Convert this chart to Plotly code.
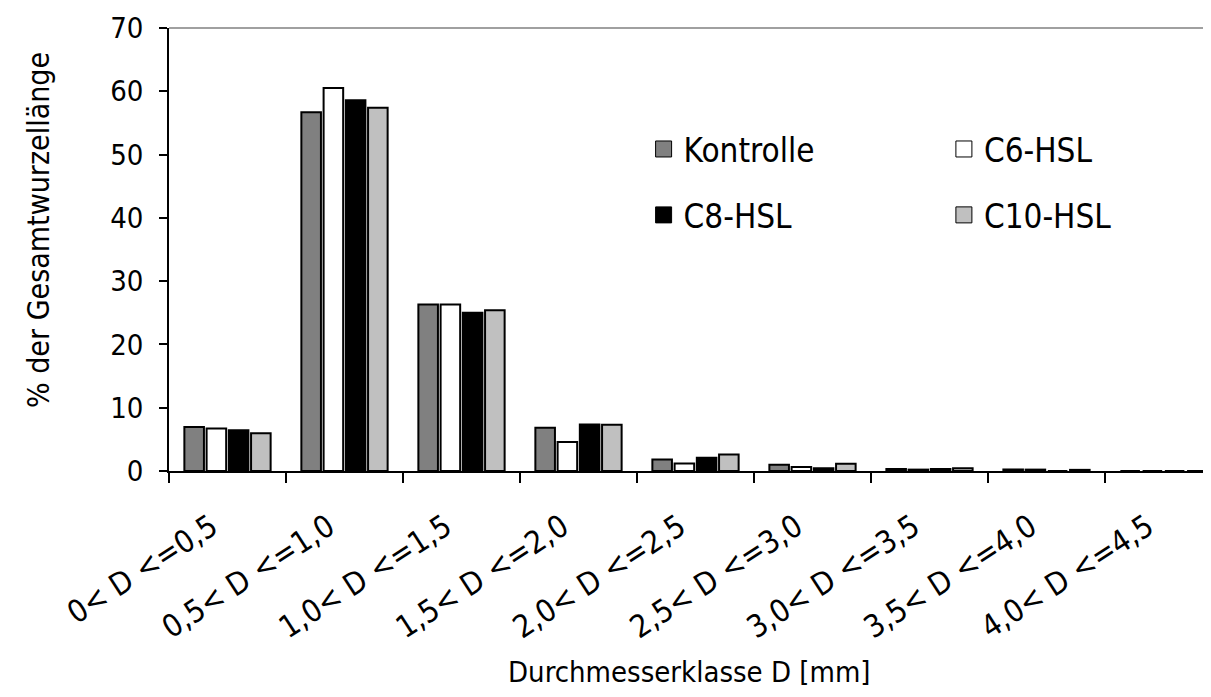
import plotly.graph_objects as go

categories = ["0< D <=0,5", "0,5< D <=1,0", "1,0< D <=1,5", "1,5< D <=2,0",
              "2,0< D <=2,5", "2,5< D <=3,0", "3,0< D <=3,5", "3,5< D <=4,0",
              "4,0< D <=4,5"]
kontrolle = [6.95, 56.7, 26.3, 6.85, 1.8, 1.0, 0.33, 0.24, 0]
c6_hsl = [6.7, 60.5, 26.3, 4.6, 1.2, 0.65, 0.22, 0.22, 0]
c8_hsl = [6.45, 58.6, 25.0, 7.35, 2.1, 0.45, 0.33, 0, 0]
c10_hsl = [5.95, 57.4, 25.4, 7.3, 2.6, 1.15, 0.45, 0.18, 0]

series = [
    ("Kontrolle", kontrolle, "#808080", "legend"),
    ("C6-HSL", c6_hsl, "#ffffff", "legend2"),
    ("C8-HSL", c8_hsl, "#000000", "legend"),
    ("C10-HSL", c10_hsl, "#c0c0c0", "legend2"),
]

FONT = "DejaVu Sans Condensed, DejaVu Sans, sans-serif"
FS = 29

fig = go.Figure()
for name, vals, col, leg in series:
    fig.add_trace(go.Bar(
        x=categories, y=vals, name=name, showlegend=False,
        marker=dict(color=col, line=dict(color="#000000", width=2)),
    ))
# legend proxies (bigger swatches)
for name, vals, col, leg in series:
    fig.add_trace(go.Scatter(
        x=[None], y=[None], mode="markers", name=name, legend=leg,
        legendgroup=name, showlegend=True,
        marker=dict(symbol="square", size=16, color=col,
                    line=dict(color="#000000", width=1)),
    ))

L, T, PH = 161, 20, 443
PW = 1211 - L
n_vis = PW / 117.0
LEGFONT = dict(family=FONT, size=33)
fig.update_layout(
    width=1211, height=697,
    margin=dict(l=L, r=0, t=T, b=697 - T - PH, autoexpand=False),
    paper_bgcolor="white", plot_bgcolor="white",
    font=dict(family=FONT, size=FS, color="black"),
    barmode="group", bargap=0.24, bargroupgap=0.12,
    showlegend=True,
    legend=dict(x=0.452, y=0.79, xanchor="left", yanchor="top",
                bgcolor="rgba(0,0,0,0)", borderwidth=0, tracegroupgap=20,
                font=LEGFONT),
    legend2=dict(x=0.738, y=0.79, xanchor="left", yanchor="top",
                 bgcolor="rgba(0,0,0,0)", borderwidth=0, tracegroupgap=20,
                 font=LEGFONT),
    xaxis=dict(type="category", range=[-0.5, -0.5 + n_vis],
               tickson="boundaries", ticks="outside", ticklen=10,
               tickwidth=1.5, tickcolor="black", showline=True,
               linecolor="black", linewidth=1.5, tickangle=-33,
               showgrid=False, zeroline=False, automargin=False,
               ticklabelshift=-16, ticklabelstandoff=24,
               tickfont=dict(family=FONT, size=31)),
    yaxis=dict(range=[0, 70], dtick=10, ticks="outside", ticklen=8,
               tickwidth=1.5, tickcolor="black", showline=True,
               linecolor="black", linewidth=1.5, showgrid=False,
               zeroline=False, automargin=False, ticklabelstandoff=10,
               tickfont=dict(family=FONT, size=FS)),
    shapes=[dict(type="line", xref="paper", yref="paper", x0=0, x1=1,
                 y0=1, y1=1, line=dict(color="#808080", width=1.5))],
    annotations=[
        dict(text="% der Gesamtwurzellänge", xref="paper", yref="paper",
             x=(30 - L) / PW, y=(463 - 222) / PH, textangle=-90,
             showarrow=False, xanchor="center", yanchor="middle",
             font=dict(family=FONT, size=30)),
        dict(text="Durchmesserklasse D [mm]", xref="paper", yref="paper",
             x=(681 - L) / PW, y=(463 - 664) / PH,
             showarrow=False, xanchor="center", yanchor="middle",
             font=dict(family=FONT, size=FS)),
    ],
)

fig.write_html("out.html")
